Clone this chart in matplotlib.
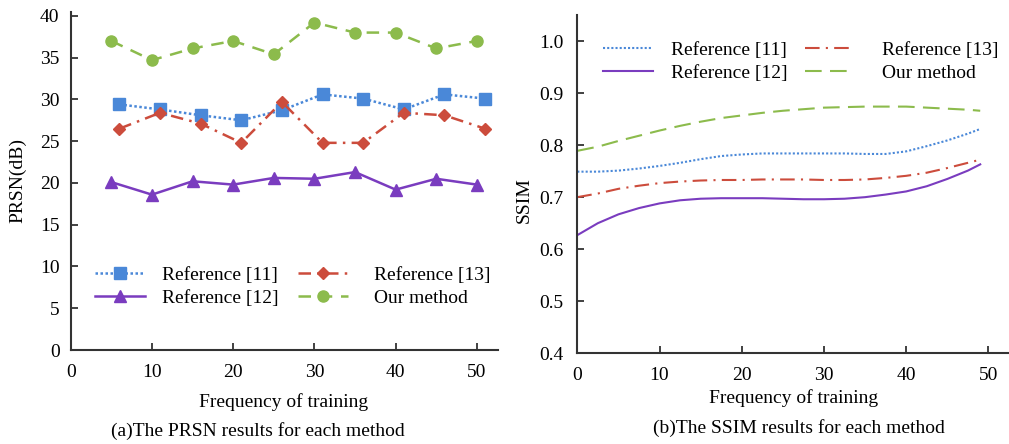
import numpy as np
import matplotlib
matplotlib.use("Agg")
from matplotlib import pyplot as plt

plt.rcParams['font.family'] = ['Liberation Serif', 'DejaVu Serif']
plt.rcParams['font.size'] = 14

# PRSN values, panel (a)
x_a = [5, 10, 15, 20, 25, 30, 35, 40, 45, 50]
x_b = [6, 11, 16, 21, 26, 31, 36, 41, 46, 51]
prsn_ref11 = [29.4, 28.8, 28.1, 27.5, 28.7, 30.6, 30.1, 28.8, 30.6, 30.1]
prsn_ref12 = [20.1, 18.6, 20.2, 19.8, 20.6, 20.5, 21.3, 19.2, 20.5, 19.8]
prsn_ref13 = [26.5, 28.4, 27.1, 24.8, 29.7, 24.8, 24.8, 28.4, 28.1, 26.5]
prsn_ours = [37.0, 34.7, 36.1, 37.0, 35.4, 39.2, 38.0, 38.0, 36.1, 37.0]

# SSIM values, panel (b)
x_s = [0, 2.5, 5, 7.5, 10, 12.5, 15, 17.5, 20, 22.5, 25, 27.5, 30,
       32.5, 35, 37.5, 40, 42.5, 45, 47.5, 49]
ssim_ref11 = [0.749, 0.749, 0.751, 0.755, 0.760, 0.766, 0.773, 0.779, 0.782,
              0.784, 0.784, 0.784, 0.784, 0.784, 0.783, 0.783, 0.788, 0.798,
              0.809, 0.822, 0.831]
ssim_ref12 = [0.627, 0.650, 0.667, 0.679, 0.688, 0.694, 0.697, 0.698, 0.698,
              0.698, 0.697, 0.696, 0.696, 0.697, 0.700, 0.705, 0.711, 0.721,
              0.735, 0.751, 0.763]
ssim_ref13 = [0.700, 0.707, 0.716, 0.722, 0.727, 0.730, 0.732, 0.733, 0.733,
              0.734, 0.734, 0.734, 0.733, 0.733, 0.734, 0.737, 0.741, 0.747,
              0.756, 0.766, 0.772]
ssim_ours = [0.789, 0.797, 0.808, 0.818, 0.828, 0.837, 0.845, 0.852, 0.857,
             0.862, 0.866, 0.869, 0.872, 0.873, 0.874, 0.874, 0.874, 0.872,
             0.870, 0.868, 0.866]

labels = ['Reference [11]', 'Reference [12]', 'Reference [13]', 'Our method']
c_blue = '#4a88d8'
c_purple = '#7a3cbf'
c_red = '#cc4c3c'
c_green = '#8cbb4c'

W, H = 1009, 444
fig = plt.figure(figsize=(W / 100, H / 100), dpi=100)


def px(x, y):
    return x / W, 1 - y / H


def style_axes(ax):
    for s in ['top', 'right']:
        ax.spines[s].set_visible(False)
    for s in ['left', 'bottom']:
        ax.spines[s].set_color('#333333')
        ax.spines[s].set_linewidth(1.5)
    ax.tick_params(direction='in', length=5, width=1.3, color='#333333',
                   labelsize=14)
    ax.tick_params(axis='x', pad=10)


# (a) PRSN
ax1 = fig.add_axes([70.7 / W, 94 / H, 427.3 / W, 338.3 / H])
style_axes(ax1)
l11, = ax1.plot(x_b, prsn_ref11, color=c_blue, lw=1.8, ls=(0, (1, 1)),
                marker='s', ms=8)
l12, = ax1.plot(x_a, prsn_ref12, color=c_purple, lw=1.8, ls='-',
                marker='^', ms=8)
l13, = ax1.plot(x_b, prsn_ref13, color=c_red, lw=1.8, ls=(0, (5, 2.5, 1, 2.5)),
                marker='D', ms=6)
l14, = ax1.plot(x_a, prsn_ours, color=c_green, lw=1.8, ls=(0, (5, 3.5)),
                marker='o', ms=8)
ax1.set_xlim(0, 52.6)
ax1.set_ylim(0, 40.5)
ax1.set_xticks([0, 10, 20, 30, 40, 50])
ax1.set_yticks(np.arange(0, 41, 5))
ax1.tick_params(axis='y', pad=8)

leg_kw = dict(frameon=False, borderpad=0, borderaxespad=0, handlelength=2.57,
              labelspacing=0.25, fontsize=14, loc='center left')
lg = ax1.legend([l11, l12], labels[:2], bbox_to_anchor=px(95, 286.5),
                bbox_transform=fig.transFigure, handletextpad=0.85, **leg_kw)
ax1.add_artist(lg)
ax1.legend([l13, l14], labels[2:], bbox_to_anchor=px(298, 286.5),
           bbox_transform=fig.transFigure, handletextpad=1.35, **leg_kw)

# (b) SSIM
ax2 = fig.add_axes([577.3 / W, 90.7 / H, 431.7 / W, 338.3 / H])
style_axes(ax2)
m11, = ax2.plot(x_s, ssim_ref11, color=c_blue, lw=1.5, ls=(0, (1, 1)))
m12, = ax2.plot(x_s, ssim_ref12, color=c_purple, lw=1.5, ls='-')
m13, = ax2.plot(x_s, ssim_ref13, color=c_red, lw=1.5, ls=(0, (7, 3, 1, 3)))
m14, = ax2.plot(x_s, ssim_ours, color=c_green, lw=1.5, ls=(0, (8, 4)))
ax2.set_xlim(0, 52.5)
ax2.set_ylim(0.4, 1.05)
ax2.set_xticks([0, 10, 20, 30, 40, 50])
ax2.set_yticks([0.4, 0.5, 0.6, 0.7, 0.8, 0.9, 1.0])
ax2.set_yticklabels(['%.1f' % v for v in [0.4, 0.5, 0.6, 0.7, 0.8, 0.9, 1.0]])
ax2.tick_params(axis='y', pad=10)

lg2 = ax2.legend([m11, m12], labels[:2], bbox_to_anchor=px(603, 61.5),
                 bbox_transform=fig.transFigure, handletextpad=0.95, **leg_kw)
ax2.add_artist(lg2)
ax2.legend([m13, m14], labels[2:], bbox_to_anchor=px(805, 61.5),
           bbox_transform=fig.transFigure, handletextpad=1.4, **leg_kw)

# axis titles and captions
fig.text(*px(18, 180), 'PRSN(dB)', rotation=90, ha='center', va='center')
fig.text(*px(524, 200), 'SSIM', rotation=90, ha='center', va='center')
fig.text(*px(284, 401.7), 'Frequency of training', ha='center', va='center')
fig.text(*px(794, 398.3), 'Frequency of training', ha='center', va='center')
fig.text(*px(258, 430.7), '(a)The PRSN results for each method',
         ha='center', va='center')
fig.text(*px(799, 428), '(b)The SSIM results for each method',
         ha='center', va='center')

fig.savefig('out.png', dpi=100)
